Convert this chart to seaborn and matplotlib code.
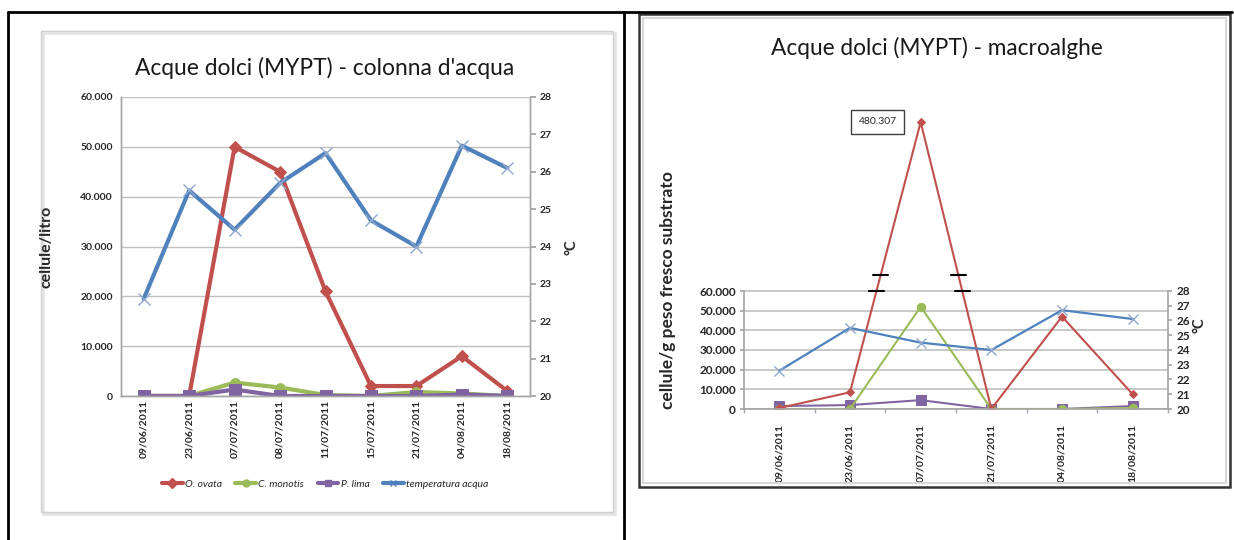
import numpy as np
import pandas as pd
import seaborn as sns
import matplotlib
matplotlib.use('Agg')
from matplotlib import pyplot as plt
from matplotlib.lines import Line2D
from matplotlib.patches import Rectangle
from matplotlib.ticker import FuncFormatter, FixedLocator

# colonna d'acqua (left chart)
dates_col = ['09/06/2011', '23/06/2011', '07/07/2011', '08/07/2011', '11/07/2011',
             '15/07/2011', '21/07/2011', '04/08/2011', '18/08/2011']
ovata_col = [0, 0, 50000, 45000, 21000, 2000, 2000, 8000, 1000]
monotis_col = [0, 0, 2700, 1700, 200, 0, 800, 500, 0]
lima_col = [0, 0, 1300, 0, 0, 0, 0, 300, 0]
temp_col = [22.6, 25.5, 24.45, 25.7, 26.5, 24.7, 24.0, 26.7, 26.1]

# macroalghe (right chart)
dates_mac = ['09/06/2011', '23/06/2011', '07/07/2011', '21/07/2011', '04/08/2011', '18/08/2011']
ovata_mac = [500, 8500, 480307, 0, 47000, 7500]
monotis_mac = [0, 0, 52000, 0, 0, 500]
lima_mac = [1500, 2000, 4500, 0, 0, 1500]
temp_mac = [22.6, 25.5, 24.5, 24.0, 26.7, 26.1]

names = ['O. ovata', 'C. monotis', 'P. lima', 'temperatura acqua']
colors = ['#C0504D', '#9BBB59', '#8064A2', '#4F81BD']
markers = ['D', 'o', 's', 'x']

sns.set_theme(style='white')
plt.rcParams['font.family'] = ['Lato', 'DejaVu Sans']
W, H = 1234, 540
fig = plt.figure(figsize=(W / 100, H / 100), dpi=100)

#helpers to go from picture pixels to figure fractions
fx = lambda x: x / W
fy = lambda y: 1 - y / H
thousands = FuncFormatter(lambda v, p: f"{int(round(v)):,}".replace(',', '.'))
grid_c = '#bfbfbf'
txt_c = '#262626'

# ---- table frame ----
for xs, ys, lw in [((8, 1232), (12, 12), 2), ((8, 8), (12, 540), 2), ((624, 624), (12, 540), 2)]:
    fig.add_artist(Line2D([fx(xs[0]), fx(xs[1])], [fy(ys[0]), fy(ys[1])], color='black', lw=lw,
                          transform=fig.transFigure))

# ---- left chart ----
fig.add_artist(Rectangle((fx(43), fy(514)), (613 - 41) / W, (514 - 33) / H, transform=fig.transFigure,
                         fill=False, ec='#e4e4e4', lw=2))
fig.add_artist(Rectangle((fx(41), fy(512)), (613 - 41) / W, (512 - 31) / H, transform=fig.transFigure,
                         fill=False, ec='#cfcfcf', lw=1))

ax1 = fig.add_axes([fx(121), fy(396), (530 - 121) / W, (396 - 97) / H])
ax1t = ax1.twinx()
xc = np.arange(len(dates_col))
for vals, c, m, ms in zip([ovata_col, monotis_col, lima_col], colors, markers, [6, 7, 8]):
    sns.lineplot(x=xc, y=vals, ax=ax1, color=c, marker=m, markersize=ms, linewidth=3,
                 markeredgecolor=c, legend=False)
sns.lineplot(x=xc, y=temp_col, ax=ax1t, color=colors[3], marker='x', markersize=8, linewidth=3,
             markeredgecolor='#8fa8cc', markeredgewidth=1, legend=False)
ax1.set_xlim(-0.5, len(dates_col) - 0.5)
ax1.set_ylim(0, 60000)
ax1.set_yticks(range(0, 60001, 10000))
ax1.yaxis.set_major_formatter(thousands)
ax1t.set_ylim(20, 28)
ax1t.set_yticks(range(20, 29))
ax1.set_xticks(xc)
ax1.set_xticklabels(dates_col, rotation=90, fontsize=7.5, color=txt_c, fontweight='bold')
ax1.yaxis.grid(True, color=grid_c, lw=1)
ax1.tick_params(axis='y', labelsize=7.5, labelcolor=txt_c, length=0, pad=6)
ax1.tick_params(axis='x', length=0, pad=3)
ax1t.tick_params(axis='y', labelsize=7.5, labelcolor=txt_c, length=4, color='#a0a0a0', pad=3)
for lab in ax1.get_yticklabels() + ax1t.get_yticklabels():
    lab.set_fontweight('bold')
for a in (ax1, ax1t):
    for s in a.spines.values():
        s.set_color('#a6a6a6')
        s.set_linewidth(1)
    a.spines['top'].set_visible(False)
    a.set_xlabel('')
    a.set_ylabel('')
ax1.patch.set_alpha(0)

fig.text(fx(325), fy(68), "Acque dolci (MYPT) - colonna d'acqua", ha='center', va='center', fontsize=16.4,
         color='#1a1a1a')
fig.text(fx(46), fy(247), 'cellule/litro', rotation=90, ha='center', va='center', fontsize=11.5,
         fontweight='bold', color=txt_c)
fig.text(fx(571), fy(247), '°C', rotation=90, ha='center', va='center', fontsize=10.5,
         fontweight='bold', color=txt_c)

handles = [Line2D([], [], color=c, marker=m, lw=3, ms=5, markeredgecolor=c) for c, m in zip(colors, markers)]
fig.legend(handles, names, loc='center', bbox_to_anchor=(fx(325), fy(484)), ncol=4, frameon=False,
           prop={'style': 'italic', 'size': 7.5}, handlelength=2.0, columnspacing=1.3, handletextpad=0.2)

# ---- right chart ----
fig.add_artist(Rectangle((fx(639), fy(487)), (1230 - 639) / W, (487 - 14) / H, transform=fig.transFigure,
                         fill=False, ec='#333333', lw=1.8))
fig.add_artist(Rectangle((fx(643), fy(483)), (1226 - 643) / W, (483 - 18) / H, transform=fig.transFigure,
                         fill=False, ec='#d8d8d8', lw=1.5))

LOW = 60000
peak = max(ovata_mac)
low_px, high_px = 118, 169  # pixel height of the two pieces of the broken axis


def fwd(v):
    v = np.asarray(v, float)
    return np.where(v <= LOW, v / LOW * low_px, low_px + (v - LOW) / (peak - LOW) * high_px)


def inv(p):
    p = np.asarray(p, float)
    return np.where(p <= low_px, p / low_px * LOW, LOW + (p - low_px) / high_px * (peak - LOW))


ax2 = fig.add_axes([fx(744), fy(409), (1168 - 744) / W, (409 - 118) / H])
ax2.set_yscale('function', functions=(fwd, inv))
xm = np.arange(len(dates_mac))
ax2t = fig.add_axes([fx(744), fy(409), (1168 - 744) / W, low_px / H])
sns.lineplot(x=xm, y=temp_mac, ax=ax2t, color=colors[3], marker='x', markersize=7, linewidth=1.6,
             markeredgecolor='#8fa8cc', markeredgewidth=1, legend=False)
for vals, c, m, ms in zip([lima_mac, monotis_mac, ovata_mac], [colors[2], colors[1], colors[0]],
                          ['s', 'o', 'D'], [7, 6, 4.5]):
    sns.lineplot(x=xm, y=vals, ax=ax2, color=c, marker=m, markersize=ms, linewidth=1.5,
                 markeredgecolor=c, legend=False)
ax2.set_xlim(-0.5, len(dates_mac) - 0.5)
ax2.set_ylim(0, float(inv(291)))
ax2.yaxis.set_major_locator(FixedLocator(list(range(0, 60001, 10000))))
ax2.yaxis.set_minor_locator(FixedLocator([]))
ax2.yaxis.set_major_formatter(thousands)
ax2.yaxis.grid(True, color=grid_c, lw=1.2)
ax2.set_xticks(xm)
ax2.set_xticklabels(dates_mac, rotation=90, fontsize=7.5, color=txt_c, fontweight='bold')
ax2.set_xticks(np.arange(len(dates_mac) + 1) - 0.5, minor=True)
ax2.tick_params(axis='x', which='major', length=0, pad=11)
ax2.tick_params(axis='x', which='minor', length=3, color='#a6a6a6', direction='out', bottom=True)
ax2.tick_params(axis='y', labelsize=8.5, labelcolor=txt_c, length=3, color='#a6a6a6', pad=3, left=True)
for lab in ax2.get_yticklabels():
    lab.set_fontweight('bold')
for s in ax2.spines.values():
    s.set_color('#a6a6a6')
ax2.spines['top'].set_visible(False)
ax2.spines['right'].set_visible(False)
ax2.spines['left'].set_bounds(0, LOW)
ax2.patch.set_alpha(0)
ax2.set_xlabel('')
ax2.set_ylabel('')

ax2t.set_xlim(-0.5, len(dates_mac) - 0.5)
ax2t.set_ylim(20, 28)
ax2t.set_yticks(range(20, 29))
ax2t.yaxis.tick_right()
ax2t.set_xticks([])
ax2t.tick_params(axis='y', labelsize=8.5, labelcolor=txt_c, length=3, color='#a6a6a6', pad=3, right=True)
for lab in ax2t.get_yticklabels():
    lab.set_fontweight('bold')
for k in ['top', 'left', 'bottom']:
    ax2t.spines[k].set_visible(False)
ax2t.spines['right'].set_color('#a6a6a6')
ax2t.patch.set_alpha(0)
ax2t.set_xlabel('')
ax2t.set_ylabel('')

# break marks where the O. ovata line leaves the lower scale
for i in range(len(ovata_mac) - 1):
    y0, y1 = ovata_mac[i], ovata_mac[i + 1]
    if (y0 > LOW) != (y1 > LOW):
        p0, p1 = float(fwd(y0)), float(fwd(y1))
        for p in (low_px, low_px + 16):
            xb = xm[i] + (p - p0) / (p1 - p0)
            ax2.plot([xb - 0.11, xb + 0.11], [float(inv(p))] * 2, color='black', lw=1.5, zorder=5)

ipk = ovata_mac.index(peak)
ax2.annotate(f"{peak:,}".replace(',', '.'), xy=(xm[ipk], peak), xytext=(-31, 0), textcoords='offset points',
             ha='center', va='center', fontsize=7.5, color=txt_c,
             bbox=dict(boxstyle='square,pad=0.7', fc='white', ec='#404040', lw=1))

fig.text(fx(937), fy(48), 'Acque dolci (MYPT) - macroalghe', ha='center', va='center', fontsize=16.3,
         color='#1a1a1a')
fig.text(fx(668), fy(290), 'cellule/g peso fresco substrato', rotation=90, ha='center', va='center',
         fontsize=12.5, fontweight='bold', color=txt_c)
fig.text(fx(1199), fy(325), '°C', rotation=90, ha='center', va='center', fontsize=10.5,
         fontweight='bold', color=txt_c)

fig.savefig('out.png', dpi=100)
